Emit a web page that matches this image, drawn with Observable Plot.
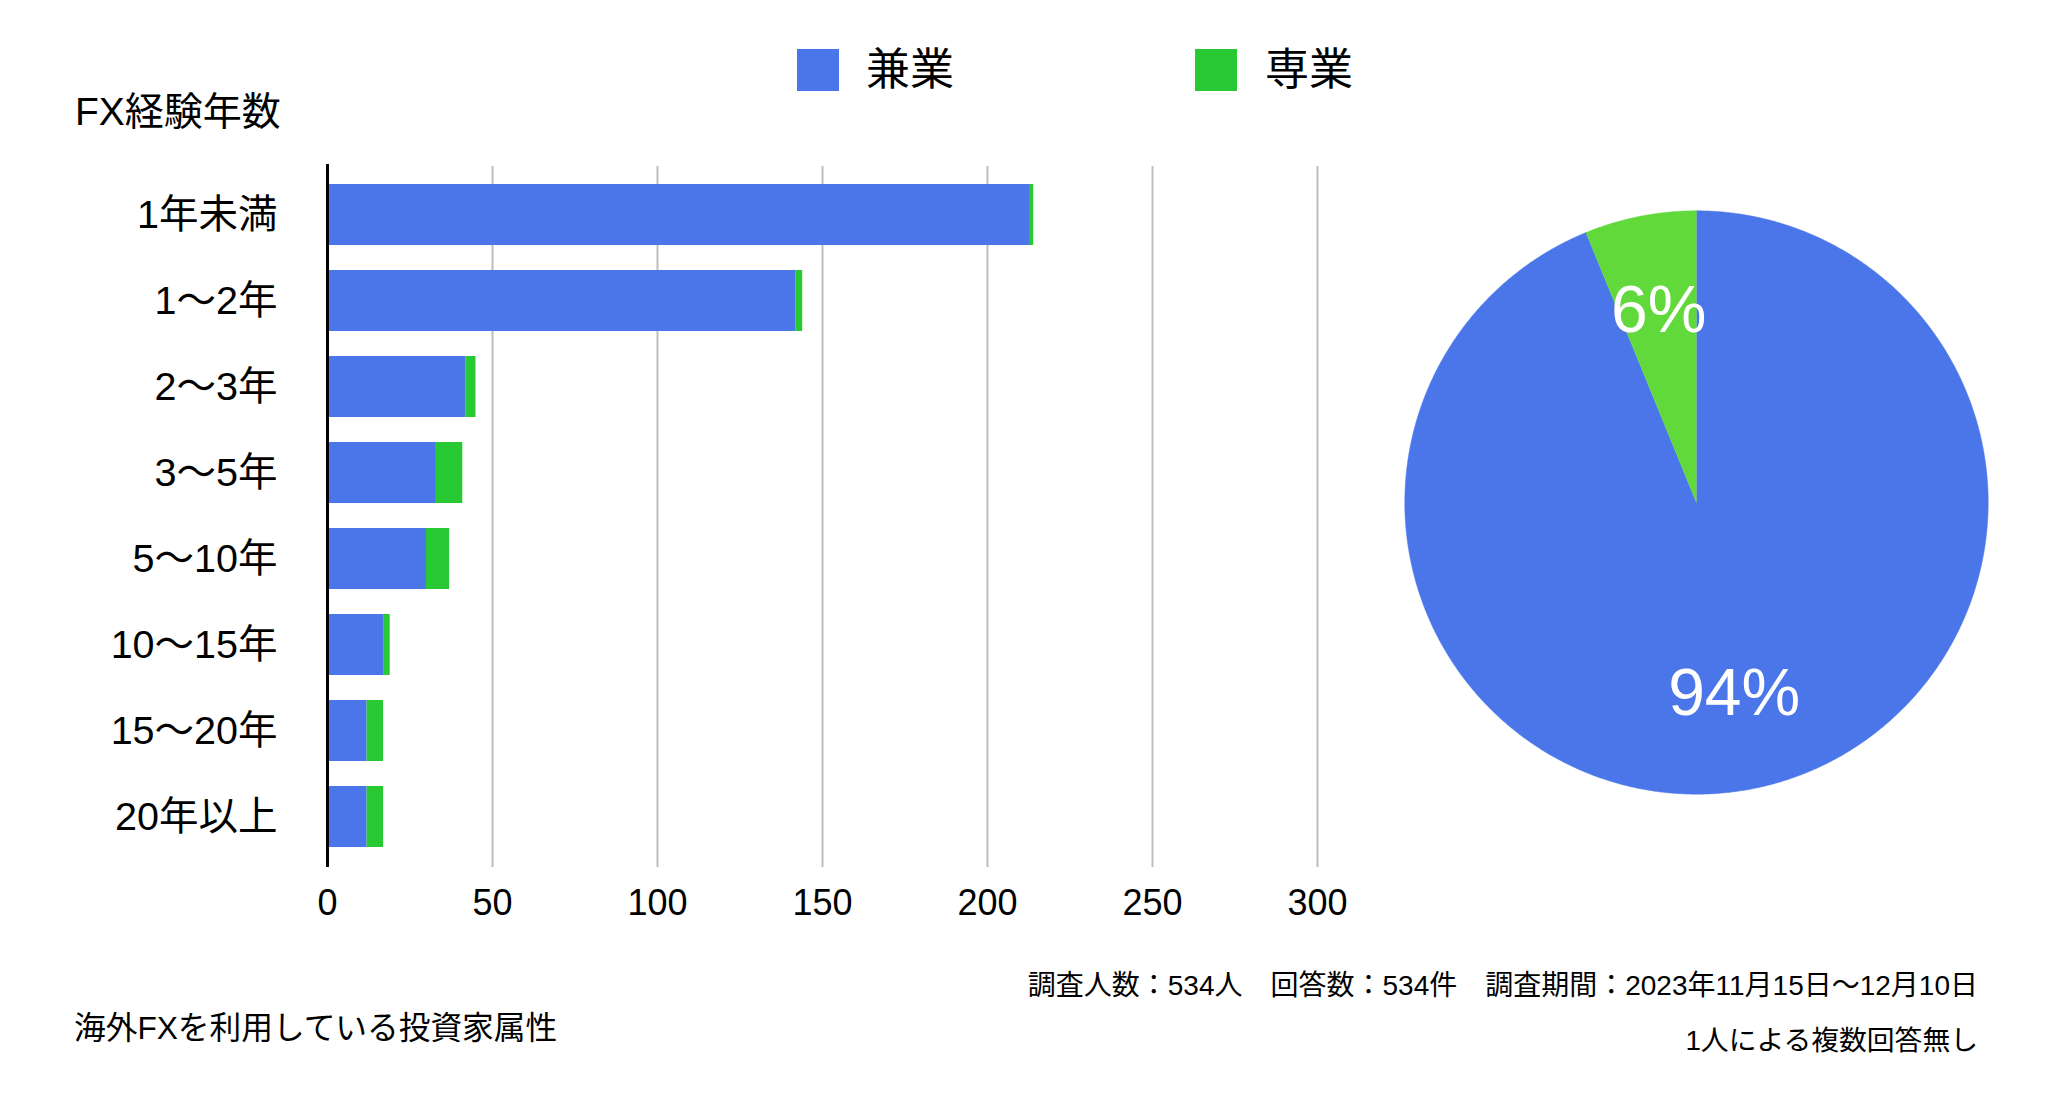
<!DOCTYPE html>
<html><head><meta charset="utf-8">
<script src="https://cdn.jsdelivr.net/npm/d3@7"></script>
<script src="https://cdn.jsdelivr.net/npm/@observablehq/plot@0.6"></script>
<style>
body{margin:0;background:#fff;}
#wrap{position:relative;width:2072px;height:1106px;overflow:hidden;font-family:"Liberation Sans","Noto Sans CJK JP",sans-serif;color:#000;background:#fff;}
.abs{position:absolute;white-space:nowrap;line-height:1;}
.vc{transform:translateY(-50%);}
.sw{position:absolute;width:42px;height:42px;}
</style></head><body><div id="wrap"></div>
<script>
// ---- data ----
const categories = ["1年未満","1〜2年","2〜3年","3〜5年","5〜10年","10〜15年","15〜20年","20年以上"];
const kengyo = [213,142,42,33,30,17,12,12];   // 兼業
const sengyo = [1,2,3,8,7,2,5,5];             // 専業
const seriesNames = ["兼業","専業"];
const xTicks = [0,50,100,150,200,250,300];
const axisTitle = "FX経験年数";
const footLeft = "海外FXを利用している投資家属性";
const footRight1 = "調査人数：534人　回答数：534件　調査期間：2023年11月15日〜12月10日";
const footRight2 = "1人による複数回答無し";

const FONT = '"Liberation Sans","Noto Sans CJK JP",sans-serif';
const BLUE = "#4b76e9", GREEN = "#29c933", PIE_GREEN = "#62d93a";

const wrap = document.getElementById("wrap");
function addText(txt, css, cls){
  const d = document.createElement("div");
  d.className = "abs " + (cls||"");
  d.textContent = txt;
  Object.assign(d.style, css);
  wrap.appendChild(d);
  return d;
}

// ---- legend ----
const sw1 = document.createElement("div"); sw1.className="sw";
Object.assign(sw1.style,{left:"797px",top:"49px",background:BLUE}); wrap.appendChild(sw1);
addText(seriesNames[0],{left:"866px",top:"70px",fontSize:"44px"},"vc");
const sw2 = document.createElement("div"); sw2.className="sw";
Object.assign(sw2.style,{left:"1195px",top:"49px",background:GREEN}); wrap.appendChild(sw2);
addText(seriesNames[1],{left:"1265px",top:"70px",fontSize:"44px"},"vc");

addText(axisTitle,{left:"75px",top:"111px",fontSize:"39px"},"vc");
addText(footLeft,{left:"74px",top:"1029px",fontSize:"31.7px"},"vc");
addText(footRight1,{right:"94px",top:"986px",fontSize:"28px"},"vc");
addText(footRight2,{right:"94px",top:"1041px",fontSize:"27.8px"},"vc");

// ---- bar chart ----
const barData = categories.flatMap((c,i)=>[
  {category:c,type:seriesNames[0],value:kengyo[i]},
  {category:c,type:seriesNames[1],value:sengyo[i]}
]);
const bar = Plot.plot({
  width:1340, height:800, marginLeft:327, marginRight:23, marginTop:25, marginBottom:72,
  style:{fontFamily:FONT, color:"#000", background:"transparent", overflow:"visible"},
  x:{domain:[0,300]},
  y:{domain:categories, paddingInner:0.29, paddingOuter:0.2},
  color:{domain:seriesNames, range:[BLUE,GREEN]},
  marks:[
    Plot.ruleX(xTicks.filter(d=>d>0), {stroke:"#bdbdbd", strokeWidth:2, strokeOpacity:1, insetTop:2}),
    Plot.barX(barData, {x:"value", y:"category", fill:"type", inset:0}),
    Plot.ruleX([0], {stroke:"#000", strokeWidth:3}),
    Plot.axisX({ticks:xTicks, tickSize:0, tickPadding:22, fontSize:36, label:null}),
    Plot.axisY({tickSize:0, tickPadding:50, fontSize:39.5, label:null})
  ]
});
Object.assign(bar.style,{position:"absolute",left:"0px",top:"139px"});
wrap.appendChild(bar);

// ---- pie chart ----
const totals = [d3.sum(kengyo), d3.sum(sengyo)];
const pieInput = seriesNames.map((n,i)=>({type:n, value:totals[i]}));
const arcs = d3.pie().sort(null).value(d=>d.value)(pieInput);
const pts = [];
arcs.forEach(a=>{
  pts.push({type:a.data.type, x:0, y:0});
  const n = Math.max(8, Math.ceil((a.endAngle-a.startAngle)/0.005));
  for(let k=0;k<=n;k++){
    const t = a.startAngle + (a.endAngle-a.startAngle)*k/n;
    pts.push({type:a.data.type, x:Math.sin(t), y:Math.cos(t)});
  }
});
const sumAll = d3.sum(totals);
const labels = arcs.map(a=>{
  const m = (a.startAngle+a.endAngle)/2;
  return {x:0.67*Math.sin(m), y:0.67*Math.cos(m), text:Math.round(a.data.value/sumAll*100)+"%"};
});
const R = 300/291.7;
const pie = Plot.plot({
  width:600, height:600, margin:0,
  style:{fontFamily:FONT, background:"transparent", overflow:"visible"},
  x:{domain:[-R,R], axis:null},
  y:{domain:[-R,R], axis:null},
  color:{domain:seriesNames, range:[BLUE,PIE_GREEN]},
  marks:[
    Plot.line(pts,{x:"x", y:"y", z:"type", fill:"type", stroke:"type", strokeWidth:0.5, curve:"linear"}),
    Plot.text(labels,{x:"x", y:"y", text:"text", fill:"white", fontSize:66})
  ]
});
Object.assign(pie.style,{position:"absolute",left:"1395.7px",top:"201.7px"});
wrap.appendChild(pie);
</script></body></html>
